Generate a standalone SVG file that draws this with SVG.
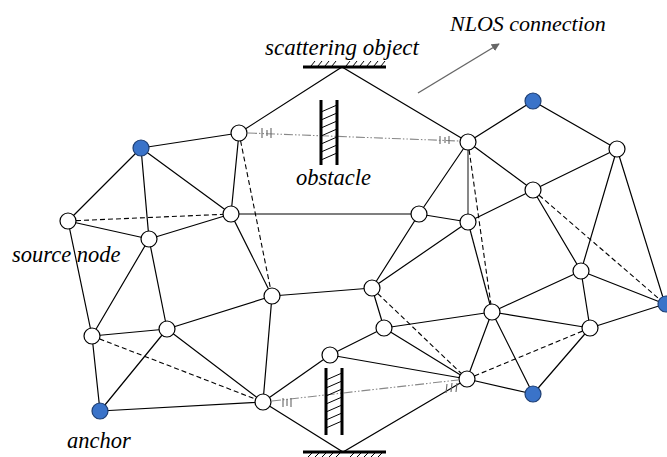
<svg xmlns="http://www.w3.org/2000/svg" width="667" height="457" viewBox="0 0 667 457">
<defs>
<style>
.e{stroke:#000;stroke-width:1.2;fill:none}
.g{stroke:#555;stroke-width:1.4;fill:none}
.d{stroke:#000;stroke-width:1.1;fill:none;stroke-dasharray:5 3}
.dd{stroke:#888;stroke-width:1.1;fill:none;stroke-dasharray:9 2 1.5 2 1.5 2}
.tk{stroke:#666;stroke-width:1.1;fill:none}
.thick{stroke:#000;stroke-width:3;fill:none}
.h{stroke:#000;stroke-width:1;fill:none}
.n{fill:#fff;stroke:#000;stroke-width:1.2}
.a{fill:#3a73c9;stroke:#1f3f73;stroke-width:1.2}
</style>
<marker id="arr" viewBox="0 0 10 10" refX="9" refY="5" markerWidth="8" markerHeight="8" markerUnits="userSpaceOnUse" orient="auto">
<path d="M0,0 L10,5 L0,10 z" fill="#666"/>
</marker>
</defs>

<g id="connectors">
<path class="e" d="M141,148 L239,133 M141,148 L68,221 M141,148 L231,214 M141,148 L149,239"/>
<path class="e" d="M239,133 L342,67 L468,142 M239,133 L231,214"/>
<path class="e" d="M68,221 L149,239 M68,221 L92,336"/>
<path class="e" d="M149,239 L231,214 M149,239 L167,329 M149,239 L92,336"/>
<path class="g" d="M231,214 L419,214"/>
<path class="e" d="M231,214 L272,296"/>
<path class="e" d="M272,296 L167,329 M272,296 L372,288 M272,296 L263,402"/>
<path class="e" d="M372,288 L419,214 M372,288 L468,222 M372,288 L384,328"/>
<path class="e" d="M419,214 L468,142 M419,214 L468,222"/>
<path class="e" d="M468,142 L533,101 L617,149 M468,142 L533,190"/>
<path class="g" d="M468,142 L468,222"/>
<path class="e" d="M617,149 L533,190 M617,149 L581,271 M617,149 L665,304"/>
<path class="e" d="M533,190 L468,222 M533,190 L581,271"/>
<path class="e" d="M468,222 L492,312"/>
<path class="e" d="M581,271 L492,312 M581,271 L665,304 M581,271 L590,328"/>
<path class="e" d="M492,312 L384,328 M492,312 L590,328 M492,312 L467,379 M492,312 L533,394"/>
<path class="e" d="M384,328 L330,355 M384,328 L467,379"/>
<path class="e" d="M590,328 L665,304 M590,328 L533,394"/>
<path class="e" d="M467,379 L330,355 M467,379 L533,394 M467,379 L343,452 L263,402"/>
<path class="e" d="M330,355 L263,402"/>
<path class="e" d="M263,402 L167,329 M263,402 L100,411"/>
<path class="e" d="M100,411 L92,336 M100,411 L167,329"/>
<path class="e" d="M92,336 L167,329"/>
<path class="d" d="M68,221 L231,214"/>
<path class="d" d="M239,133 L272,296"/>
<path class="d" d="M468,142 L492,312"/>
<path class="d" d="M533,190 L665,304"/>
<path class="d" d="M92,336 L263,402"/>
<path class="d" d="M372,288 L467,379"/>
<path class="d" d="M467,379 L590,328"/>
<path class="dd" d="M248,133 L459,141"/>
<path class="dd" d="M272,401 L458,380"/>
<path class="tk" d="M262,128 V138 M267,130 V136 M271,128 V138"/>
<path class="tk" d="M440,136 V144 M445,137 V143 M449,136 V144"/>
<path class="tk" d="M283,398 V407 M287,399 V406 M291,398 V407"/>
<path class="tk" d="M447,384 L446,393 M452,383 L451,392 M457,383 L456,392"/>
<path d="M418,93 L499,44" stroke="#666" stroke-width="1.4" fill="none" marker-end="url(#arr)"/>
</g>

<g id="scattering-top">
<path class="thick" d="M303,67 H386"/>
<path class="h" d="M311,66 L315,61 M318,66 L322,61 M325,66 L329,61 M332,66 L336,61 M346,66 L350,61 M353,66 L357,61 M360,66 L364,61 M367,66 L371,61 M374,66 L378,61 M381,66 L385,61"/>
</g>
<g id="scattering-bottom">
<path class="thick" d="M303,452 H386"/>
<path class="h" d="M308,457 L312,453 M315,457 L319,453 M322,457 L326,453 M329,457 L333,453 M336,457 L340,453 M350,457 L354,453 M357,457 L361,453 M364,457 L368,453 M371,457 L375,453 M378,457 L382,453"/>
</g>
<g id="obstacle-top">
<path class="thick" d="M321,100 V165 M337,100 V165"/>
<path class="h" d="M321,112 L337,105 M321,120 L337,113 M321,128 L337,121 M321,136 L337,129 M321,144 L337,137 M321,152 L337,145 M321,160 L337,153"/>
</g>
<g id="obstacle-bottom">
<path class="thick" d="M326,368 V435 M342,368 V435"/>
<path class="h" d="M326,380 L342,373 M326,388 L342,381 M326,396 L342,389 M326,404 L342,397 M326,412 L342,405 M326,420 L342,413 M326,428 L342,421"/>
</g>

<g id="anchor1"><circle class="a" cx="141" cy="148" r="8"/></g>
<g id="anchor2"><circle class="a" cx="533" cy="101" r="8"/></g>
<g id="anchor3"><circle class="a" cx="666" cy="304" r="8"/></g>
<g id="anchor4"><circle class="a" cx="533" cy="394" r="8"/></g>
<g id="anchor5"><circle class="a" cx="100" cy="411" r="8"/></g>
<g id="n1"><circle class="n" cx="239" cy="133" r="8"/></g>
<g id="n2"><circle class="n" cx="468" cy="142" r="8"/></g>
<g id="n3"><circle class="n" cx="617" cy="149" r="8"/></g>
<g id="n4"><circle class="n" cx="68" cy="221" r="8"/></g>
<g id="n5"><circle class="n" cx="149" cy="239" r="8"/></g>
<g id="n6"><circle class="n" cx="231" cy="214" r="8"/></g>
<g id="n7"><circle class="n" cx="419" cy="214" r="8"/></g>
<g id="n8"><circle class="n" cx="468" cy="222" r="8"/></g>
<g id="n9"><circle class="n" cx="533" cy="190" r="8"/></g>
<g id="n10"><circle class="n" cx="272" cy="296" r="8"/></g>
<g id="n11"><circle class="n" cx="372" cy="288" r="8"/></g>
<g id="n12"><circle class="n" cx="92" cy="336" r="8"/></g>
<g id="n13"><circle class="n" cx="167" cy="329" r="8"/></g>
<g id="n14"><circle class="n" cx="581" cy="271" r="8"/></g>
<g id="n15"><circle class="n" cx="492" cy="312" r="8"/></g>
<g id="n16"><circle class="n" cx="384" cy="328" r="8"/></g>
<g id="n17"><circle class="n" cx="590" cy="328" r="8"/></g>
<g id="n18"><circle class="n" cx="467" cy="379" r="8"/></g>
<g id="n19"><circle class="n" cx="330" cy="355" r="8"/></g>
<g id="n20"><circle class="n" cx="263" cy="402" r="8"/></g>

<g id="labels" font-family="'Liberation Serif', 'Times New Roman', Times, 'DejaVu Serif', serif" font-style="italic" font-size="22.5" fill="#000">
<text x="265" y="55" font-size="23">scattering object</text>
<text x="450" y="31" font-size="22">NLOS connection</text>
<text x="296" y="185">obstacle</text>
<text x="12" y="262">source node</text>
<text x="67" y="448">anchor</text>
</g>
</svg>
